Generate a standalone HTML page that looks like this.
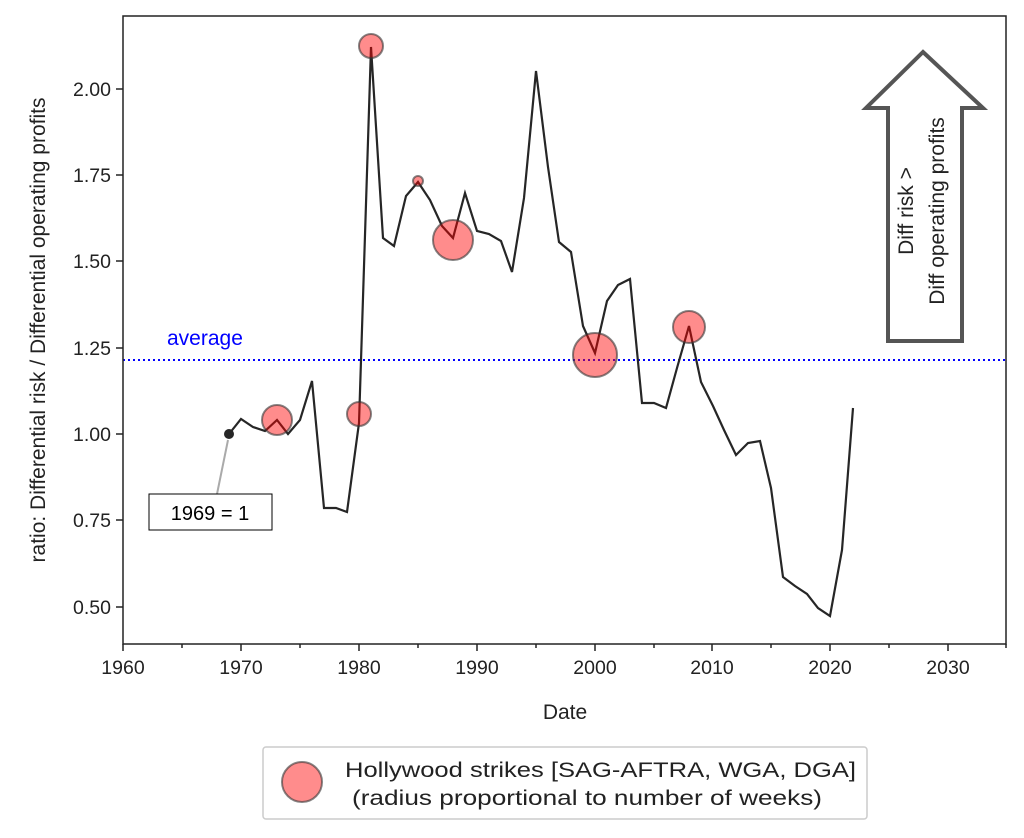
<!DOCTYPE html>
<html><head><meta charset="utf-8"><style>body{margin:0;background:#fff}svg{display:block}</style></head><body>
<svg width="1024" height="838" xmlns="http://www.w3.org/2000/svg" font-family="Liberation Sans, sans-serif">
<rect width="1024" height="838" fill="#fff"/>
<line x1="123" y1="360" x2="1006" y2="360" stroke="#0000ff" stroke-width="2" stroke-dasharray="2,3"/>
<text x="167" y="345" font-size="21" fill="#0000ff">average</text>
<polyline fill="none" stroke="#262626" stroke-width="2.2" points="229,434 241,419 253,427 265,431 277,420 288,434 300,420 312,381 324,508 336,508 347,512 359,423 371,47 383,238 394,246 406,196 418,182 430,200 442,226 453,238 465,193 477,231 489,234 501,241 512,272 524,198 536,71 548,167 559,242 571,252 583,326 595,353 607,301 618,285 630,279 642,403 654,403 666,408 677,368 689,326 701,382 713,406 724,430 736,455 748,443 760,441 771,488 783,577 795,586 807,594 818,608 830,616 842,550 853,408"/>
<circle cx="229" cy="434" r="5" fill="#262626"/>
<g fill="#ff0000" fill-opacity="0.45" stroke="#333" stroke-opacity="0.6" stroke-width="2">
<circle cx="277" cy="420" r="15"/><circle cx="359" cy="414" r="12"/><circle cx="371" cy="46" r="12"/><circle cx="418" cy="181" r="5"/><circle cx="453" cy="240" r="20"/><circle cx="595" cy="355" r="22"/><circle cx="689" cy="327" r="16"/>
</g>
<line x1="228" y1="440" x2="217" y2="494" stroke="#aaa" stroke-width="2"/>
<rect x="149" y="494" width="123" height="36" fill="#fff" stroke="#000" stroke-width="1"/>
<text x="210" y="520" font-size="20" text-anchor="middle">1969 = 1</text>
<polygon points="923,52 983,108 962,108 962,341 888,341 888,108 866,108" fill="#fff" stroke="#555" stroke-width="4"/>
<g transform="translate(913,211) rotate(-90)" font-size="21" fill="#222" text-anchor="middle"><text x="0" y="0">Diff risk &gt;</text><text x="0" y="31">Diff operating profits</text></g>
<rect x="123" y="16" width="883" height="628" fill="none" stroke="#222" stroke-width="1.5"/>
<g stroke="#222" stroke-width="1.5">
<line x1="123" y1="644" x2="123" y2="651"/><line x1="241" y1="644" x2="241" y2="651"/><line x1="359" y1="644" x2="359" y2="651"/><line x1="477" y1="644" x2="477" y2="651"/><line x1="595" y1="644" x2="595" y2="651"/><line x1="712" y1="644" x2="712" y2="651"/><line x1="830" y1="644" x2="830" y2="651"/><line x1="948" y1="644" x2="948" y2="651"/>
<line x1="182" y1="644" x2="182" y2="648"/><line x1="300" y1="644" x2="300" y2="648"/><line x1="418" y1="644" x2="418" y2="648"/><line x1="536" y1="644" x2="536" y2="648"/><line x1="654" y1="644" x2="654" y2="648"/><line x1="771" y1="644" x2="771" y2="648"/><line x1="889" y1="644" x2="889" y2="648"/><line x1="1006" y1="644" x2="1006" y2="648"/>
<line x1="116" y1="89" x2="123" y2="89"/><line x1="116" y1="175" x2="123" y2="175"/><line x1="116" y1="261" x2="123" y2="261"/><line x1="116" y1="348" x2="123" y2="348"/><line x1="116" y1="434" x2="123" y2="434"/><line x1="116" y1="520" x2="123" y2="520"/><line x1="116" y1="607" x2="123" y2="607"/>
</g>
<g font-size="19.5" fill="#222" text-anchor="middle">
<text x="123" y="674">1960</text><text x="241" y="674">1970</text><text x="359" y="674">1980</text><text x="477" y="674">1990</text><text x="595" y="674">2000</text><text x="712" y="674">2010</text><text x="830" y="674">2020</text><text x="948" y="674">2030</text>
</g>
<g font-size="19.5" fill="#222" text-anchor="end">
<text x="111" y="96">2.00</text><text x="111" y="182">1.75</text><text x="111" y="268">1.50</text><text x="111" y="355">1.25</text><text x="111" y="441">1.00</text><text x="111" y="527">0.75</text><text x="111" y="614">0.50</text>
</g>
<text x="565" y="719" font-size="21" text-anchor="middle" fill="#222">Date</text>
<text transform="translate(45,330) rotate(-90)" font-size="21" text-anchor="middle" fill="#222">ratio: Differential risk / Differential operating profits</text>
<rect x="263" y="747" width="604" height="72" fill="#fff" stroke="#ccc" stroke-width="1.5" rx="3"/>
<circle cx="302" cy="782" r="20" fill="#ff0000" fill-opacity="0.45" stroke="#333" stroke-opacity="0.6" stroke-width="2"/>
<text x="345" y="777" font-size="21" fill="#222" textLength="511" lengthAdjust="spacingAndGlyphs">Hollywood strikes [SAG-AFTRA, WGA, DGA]</text>
<text x="352" y="805" font-size="21" fill="#222" textLength="470" lengthAdjust="spacingAndGlyphs">(radius proportional to number of weeks)</text>
</svg>
</body></html>
